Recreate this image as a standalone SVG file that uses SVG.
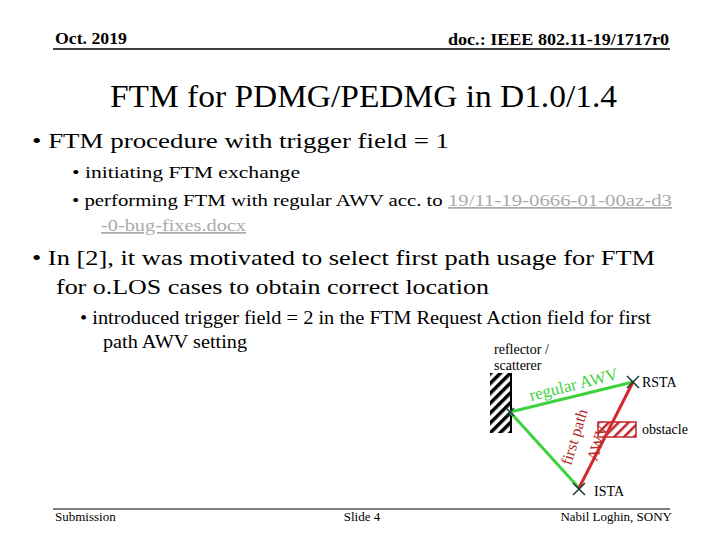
<svg xmlns="http://www.w3.org/2000/svg" width="720" height="540" viewBox="0 0 720 540">
<defs>
<pattern id="hb" width="7" height="7" patternUnits="userSpaceOnUse" patternTransform="rotate(45)"><rect width="7" height="7" fill="#fff"/><rect width="3.5" height="7" fill="#000"/></pattern>
<pattern id="hr" width="7" height="7" patternUnits="userSpaceOnUse" patternTransform="rotate(45)"><rect width="7" height="7" fill="#fff"/><rect width="2.5" height="7" fill="#c0272d"/></pattern>
</defs>
<style>
text{font-family:"Liberation Serif","Times New Roman",serif;fill:#000}
.b{font-weight:bold}
.s{font-size:14px}
.x{stroke:#1a3a3a;stroke-width:1.5}
</style>
<rect width="720" height="540" fill="#fff"/>
<g id="header">
<text x="55" y="44" class="b" font-size="16" textLength="72" lengthAdjust="spacingAndGlyphs">Oct. 2019</text>
<text x="448" y="45" class="b" font-size="16" textLength="221" lengthAdjust="spacingAndGlyphs">doc.: IEEE 802.11-19/1717r0</text>
<line x1="53" y1="49" x2="670" y2="49" stroke="#000" stroke-width="1.5"/>
</g>
<text x="110" y="107" font-size="32" textLength="507" lengthAdjust="spacingAndGlyphs">FTM for PDMG/PEDMG in D1.0/1.4</text>
<g id="body">
<text x="32" y="148" font-size="21" textLength="417" lengthAdjust="spacingAndGlyphs">• FTM procedure with trigger field = 1</text>
<text x="72" y="178" font-size="17" textLength="228" lengthAdjust="spacingAndGlyphs">• initiating FTM exchange</text>
<text x="72" y="206" font-size="17" textLength="600" lengthAdjust="spacingAndGlyphs">• performing FTM with regular AWV acc. to <tspan fill="#aaa" style="fill:#aaa" text-decoration="underline">19/11-19-0666-01-00az-d3</tspan></text>
<text x="101" y="231" font-size="17" style="fill:#aaa" text-decoration="underline" textLength="145" lengthAdjust="spacingAndGlyphs">-0-bug-fixes.docx</text>
<text x="32" y="265" font-size="22" textLength="623" lengthAdjust="spacingAndGlyphs">• In [2], it was motivated to select first path usage for FTM</text>
<text x="56" y="294" font-size="22" textLength="433" lengthAdjust="spacingAndGlyphs">for o.LOS cases to obtain correct location</text>
<text x="80" y="324" font-size="18" textLength="571" lengthAdjust="spacingAndGlyphs">• introduced trigger field = 2 in the FTM Request Action field for first</text>
<text x="103" y="348" font-size="18" textLength="144" lengthAdjust="spacingAndGlyphs">path AWV setting</text>
</g>
<g id="figure">
<g id="wall"><rect x="490" y="373" width="21" height="60" fill="url(#hb)"/><line x1="511" y1="373" x2="511" y2="433" stroke="#000" stroke-width="2"/></g>
<text x="494" y="354" class="s">reflector /</text>
<text x="494" y="370" class="s">scatterer</text>
<g id="obstacle"><rect x="598" y="422" width="38" height="15" fill="url(#hr)" stroke="#c0272d" stroke-width="1.5"/></g>
<text x="642" y="434" class="s">obstacle</text>
<g id="connectors">
<line x1="510" y1="412" x2="633" y2="382" stroke="#3ed23e" stroke-width="3"/>
<line x1="510" y1="412" x2="579" y2="488" stroke="#3ed23e" stroke-width="3"/>
<line x1="579" y1="488" x2="633" y2="382" stroke="#d42a2a" stroke-width="3"/>
</g>
<text transform="translate(531,401) rotate(-14)" font-size="17" style="fill:#3ed23e">regular AWV</text>
<text transform="translate(571,466) rotate(-73)" font-size="16" style="fill:#b52828">first path</text>
<text transform="translate(597,462) rotate(-73)" font-size="16" style="fill:#b52828">AWV</text>
<g id="RSTA"><path class="x" d="M627 376l12 12M639 376l-12 12"/><text x="642" y="387" class="s">RSTA</text></g>
<g id="ISTA"><path class="x" d="M573 483l12 12M585 483l-12 12"/><text x="594" y="496" class="s">ISTA</text></g>
<path class="x" d="M506 408l8 8M514 408l-8 8"/>
</g>
<g id="footer">
<line x1="53" y1="509" x2="670" y2="509" stroke="#000" stroke-width="1"/>
<text x="55" y="521" font-size="13">Submission</text>
<text x="362" y="521" font-size="13" text-anchor="middle">Slide 4</text>
<text x="672" y="521" font-size="13" text-anchor="end">Nabil Loghin, SONY</text>
</g>
</svg>
